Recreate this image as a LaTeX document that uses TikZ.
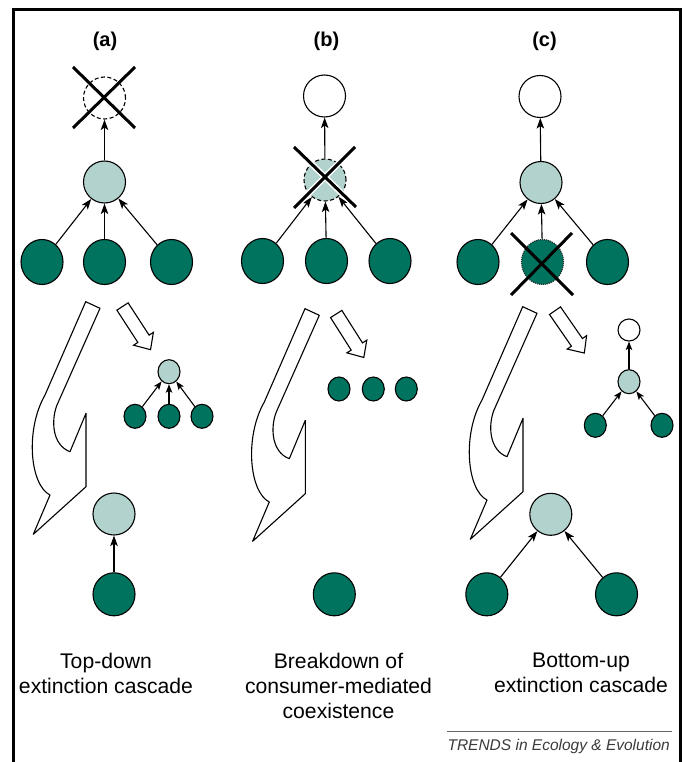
\documentclass[tikz,border=0pt]{standalone}
\usepackage{fontspec}
\setmainfont{Liberation Sans}
\usetikzlibrary{arrows.meta,shapes.geometric}
\definecolor{dkgreen}{HTML}{00735F}
\definecolor{ltgreen}{HTML}{B2D3CD}
\definecolor{footgray}{HTML}{3A3A3A}

\begin{document}
\begin{tikzpicture}[x=1pt,y=-1pt,
  every node/.style={inner sep=0pt},
  sp/.style={draw=black, line width=1.1pt},
  topsp/.style={sp, circle, fill=white, minimum size=42pt},
  midsp/.style={sp, circle, fill=ltgreen, minimum size=42pt},
  basesp/.style={sp, ellipse, fill=dkgreen, minimum width=42pt, minimum height=45pt},
  smtop/.style={sp, circle, fill=white, minimum size=22pt},
  smmid/.style={sp, ellipse, fill=ltgreen, minimum width=22pt, minimum height=24pt},
  smbase/.style={sp, ellipse, fill=dkgreen, minimum width=22pt, minimum height=24pt},
  feed/.style={-{Stealth[length=10.5pt,width=7.5pt,inset=2.5pt]}, line width=1.1pt},
  smfeed/.style={-{Stealth[length=8.5pt,width=6.5pt,inset=2pt]}, line width=1.1pt},
  knock/.style={line width=3pt},
  outarrow/.style={draw=black, line width=1.1pt, fill=white, line join=round},
  panel/.style={font=\fontsize{20}{24}\selectfont\bfseries},
  caption/.style={font=\fontsize{21.15}{24.7}\selectfont, align=center, anchor=north},
  cascade/.pic={
    \draw[outarrow] (85.7,301.7) -- (100,308.3) -- (57,405)
      .. controls (51,420) and (52,445) .. (70,451.7)
      -- (86,413.3) -- (86,486.7) -- (33.3,534.3) -- (50,495)
      .. controls (30,485) and (25,430) .. (45,395) -- cycle;
  },
  blockarrow/.pic={
    \draw[outarrow, line join=miter] (0,-6.7) -- (38.5,-6.7) -- (38.5,-11.8) -- (51.5,0)
      -- (38.5,11.8) -- (38.5,6.7) -- (0,6.7) -- cycle;
  },
]
\useasboundingbox (0,0) rectangle (683,762);

% frame open at the bottom
\draw[line width=3pt, line join=miter] (13,762) -- (13,10) -- (680,10) -- (680,762);

% ---------------- panel (a): top-down extinction cascade
\node[panel] (laba) at (105,41) {(a)};
\node[topsp, dashed, dash pattern=on 4pt off 2.5pt] (atop) at (104.5,98) {};
\node[midsp] (amid) at (104.5,182) {};
\node[basesp] (ab1) at (42,262) {};
\node[basesp] (ab2) at (104.5,262) {};
\node[basesp] (ab3) at (171.5,262) {};
\draw[feed] (amid) -- (atop);
\draw[feed] (ab1) -- (amid);
\draw[feed] (ab2) -- (amid);
\draw[feed] (ab3) -- (amid);
\coordinate (axa) at (73,67);  \coordinate (axb) at (135,128);
\coordinate (axc) at (135,67); \coordinate (axd) at (73,128);
\draw[knock] (axa) -- (axb);
\draw[knock] (axc) -- (axd);

\pic at (0,0) {cascade};
\pic[rotate=-57] at (122.5,306.5) {blockarrow};

\node[smmid] (asm) at (169,371.7) {};
\node[smbase] (as1) at (135,416.3) {};
\node[smbase] (as2) at (169,416.3) {};
\node[smbase] (as3) at (202,416.3) {};
\draw[smfeed] (as1) -- (asm);
\draw[smfeed] (as2) -- (asm);
\draw[smfeed] (as3) -- (asm);

\node[midsp] (afm) at (114,514) {};
\node[basesp, minimum height=43pt] (afb) at (114,594.3) {};
\draw[feed] (afb) -- (afm);

\node[caption] (capa) at (106,653.2) {Top-down\\extinction cascade};

% ---------------- panel (b): breakdown of consumer-mediated coexistence
\node[panel] (labb) at (326.5,41) {(b)};
\node[topsp] (btop) at (324.5,96) {};
\node[midsp, dashed, dash pattern=on 4pt off 2.5pt] (bmid) at (325,180) {};
\node[basesp] (bb1) at (262.5,261) {};
\node[basesp] (bb2) at (326.5,261) {};
\node[basesp] (bb3) at (390,261) {};
\draw[feed] (bmid) -- (btop);
\draw[feed] (bb1) -- (bmid);
\draw[feed] (bb2) -- (bmid);
\draw[feed] (bb3) -- (bmid);
\coordinate (bxa) at (294,147);  \coordinate (bxb) at (356,207);
\coordinate (bxc) at (355,147);  \coordinate (bxd) at (294,208);
\draw[white, line width=6pt] (bxa) -- (bxb) (bxc) -- (bxd);
\draw[knock] (bxa) -- (bxb);
\draw[knock] (bxc) -- (bxd);

\pic at (219.3,7) {cascade};
\pic[rotate=-57.6] at (336.2,314) {blockarrow};

\node[smbase] (bs1) at (339,389) {};
\node[smbase] (bs2) at (373.3,389) {};
\node[smbase] (bs3) at (406.3,389) {};

\node[basesp, minimum height=43pt] (bfb) at (334.3,594.3) {};

\node[caption] (capb) at (338.5,653.2) {Breakdown of\\consumer-mediated\\coexistence};

% ---------------- panel (c): bottom-up extinction cascade
\node[panel] (labc) at (544.5,41) {(c)};
\node[topsp] (ctop) at (540,96.5) {};
\node[midsp] (cmid) at (541,182.5) {};
\node[basesp] (cb1) at (478,262) {};
\node[basesp, draw=black!85, densely dotted] (cb2) at (542.5,262) {};
\node[basesp] (cb3) at (607.5,262) {};
\draw[feed] (cmid) -- (ctop);
\draw[feed] (cb1) -- (cmid);
\draw[feed] (cb2) -- (cmid);
\draw[feed] (cb3) -- (cmid);
\coordinate (cxa) at (511,233);  \coordinate (cxb) at (573,295);
\coordinate (cxc) at (572,233);  \coordinate (cxd) at (511,295);
\draw[knock] (cxa) -- (cxb);
\draw[knock] (cxc) -- (cxd);

\pic at (437,5) {cascade};
\pic[rotate=-55.3] at (555,310.7) {blockarrow};

\node[smtop] (cst) at (629,330) {};
\node[smmid] (csm) at (629,381.7) {};
\node[smbase] (cs1) at (595.3,425.3) {};
\node[smbase] (cs2) at (662,425.3) {};
\draw[smfeed] (csm) -- (cst);
\draw[smfeed] (cs1) -- (csm);
\draw[smfeed] (cs2) -- (csm);

\node[midsp] (cfm) at (550.8,514.3) {};
\node[basesp, minimum height=43pt] (cf1) at (486.8,594.3) {};
\node[basesp, minimum height=43pt] (cf2) at (616.5,594.3) {};
\draw[feed] (cf1) -- (cfm);
\draw[feed] (cf2) -- (cfm);

\node[caption] (capc) at (581,653.2) {Bottom-up\\extinction cascade};

% ---------------- source line
\node[anchor=base east, font=\fontsize{15.5}{18}\selectfont\itshape, text=footgray] (src) at (670,750) {TRENDS in Ecology \& Evolution};
\draw[black!60, line width=0.8pt] (447,731) -- (672,731);
\end{tikzpicture}
\end{document}
